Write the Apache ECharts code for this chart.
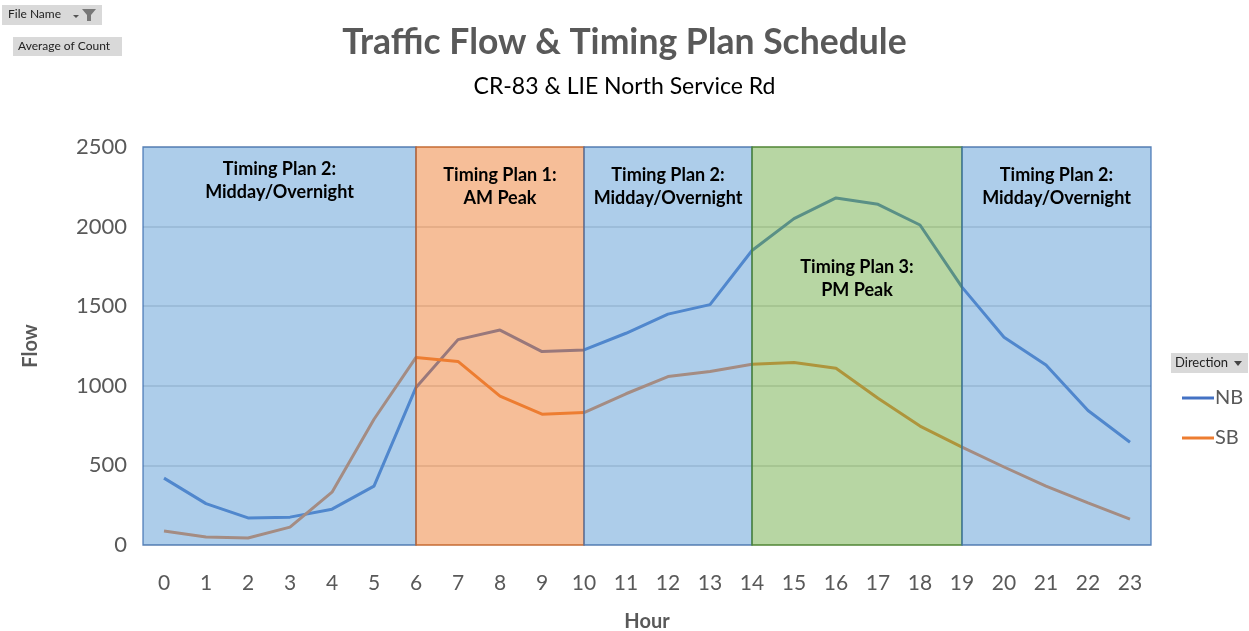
<!DOCTYPE html>
<html>
<head>
<meta charset="utf-8">
<script src="https://cdn.jsdelivr.net/npm/echarts@6/dist/echarts.min.js"></script>
<style>
html,body{margin:0;padding:0;background:#fff;}
#c{width:1249px;height:631px;}
</style>
</head>
<body>
<div id="c"></div>
<script>
var hours = ['0','1','2','3','4','5','6','7','8','9','10','11','12','13','14','15','16','17','18','19','20','21','22','23'];
var nbFlow = [420,260,170,175,225,370,990,1290,1350,1215,1225,1330,1450,1510,1850,2050,2180,2140,2010,1620,1305,1130,845,645];
var sbFlow = [88,50,44,112,332,790,1178,1153,935,822,832,950,1058,1090,1135,1147,1110,922,747,615,490,370,264,162];
var yTicks = [0,500,1000,1500,2000,2500];
var planStart = [-0.5, 6, 10, 14, 19];
var planEnd = [6, 10, 14, 19, 23.5];
var planNames = ['Timing Plan 2:\nMidday/Overnight','Timing Plan 1:\nAM Peak','Timing Plan 2:\nMidday/Overnight','Timing Plan 3:\nPM Peak','Timing Plan 2:\nMidday/Overnight'];
var planKind = ['mid','am','mid','pm','mid'];

var FONT = 'Lato';
var kindStyle = {
  mid: {color:'rgba(91,155,213,0.5)', borderColor:'rgba(60,110,175,0.75)'},
  am:  {color:'rgba(237,125,49,0.5)', borderColor:'rgba(200,95,30,0.8)'},
  pm:  {color:'rgba(112,173,71,0.5)', borderColor:'rgba(70,130,40,0.85)'}
};
var labelDist = [11, 17, 17, 109, 17];

var areaData = planStart.map(function(s,i){
  var k = kindStyle[planKind[i]];
  return [{
    xAxis: s,
    itemStyle: {color:k.color, borderColor:k.borderColor, borderWidth:1.5},
    label: {show:true, position:'insideTop', distance: labelDist[i], formatter: planNames[i],
            color:'#000', fontFamily:FONT, fontWeight:'bold', fontSize:18, lineHeight:23, align:'center'}
  },{xAxis: planEnd[i]}];
});

var chart = echarts.init(document.getElementById('c'));
chart.setOption({
  animation:false,
  backgroundColor:'#fff',
  title:[{
    text:'Traffic Flow & Timing Plan Schedule',
    left:'center', top:20,
    textStyle:{fontFamily:FONT, fontWeight:'bold', fontSize:35.5, color:'#595959'},
    subtext:'CR-83 & LIE North Service Rd',
    subtextStyle:{fontFamily:FONT, fontSize:23, color:'#000'},
    itemGap:14
  }],
  legend:{
    orient:'vertical', left:1177, top:383, itemGap:20,
    icon:'rect', itemWidth:32, itemHeight:3,
    textStyle:{fontFamily:FONT, fontSize:20, color:'#595959', padding:[0,0,0,-4]},
    data:['NB','SB']
  },
  grid:{left:143, right:98, top:147, bottom:86, outerBoundsMode:'none', containLabel:false},
  xAxis:[{
    type:'category', data:hours, boundaryGap:true,
    axisLine:{show:false}, axisTick:{show:false},
    axisLabel:{fontFamily:FONT, fontSize:21, color:'#595959', margin:28, interval:0},
    name:'Hour', nameLocation:'middle', nameGap:67,
    nameTextStyle:{fontFamily:FONT, fontWeight:'bold', fontSize:20, color:'#595959'}
  },{
    type:'value', min:-0.5, max:23.5, show:false
  }],
  yAxis:{
    type:'value', min:yTicks[0], max:yTicks[yTicks.length-1], interval:500,
    axisLine:{show:false}, axisTick:{show:false},
    axisLabel:{fontFamily:FONT, fontSize:22, color:'#595959', margin:16, formatter:function(v){return String(v);}},
    splitLine:{lineStyle:{color:'#d0d0d0', width:1.5}},
    name:'Flow', nameLocation:'middle', nameGap:102, nameRotate:90,
    nameTextStyle:{fontFamily:FONT, fontWeight:'bold', fontSize:20, color:'#595959'}
  },
  series:[{
    name:'NB', type:'line', data:nbFlow, symbol:'none', z:2,
    lineStyle:{color:'#4472C4', width:3}, itemStyle:{color:'#4472C4'}
  },{
    name:'SB', type:'line', data:sbFlow, symbol:'none', z:2,
    lineStyle:{color:'#ED7D31', width:3}, itemStyle:{color:'#ED7D31'}
  },{
    name:'plans', type:'line', xAxisIndex:1, data:[], z:5, silent:true,
    markArea:{silent:true, z:5, data:areaData}
  }],
  graphic:[
    {type:'rect', left:2, top:5, shape:{width:100, height:20}, style:{fill:'#d9d9d9'}},
    {type:'text', left:8, top:8, style:{text:'File Name', font:'12px '+FONT, fill:'#222'}},
    {type:'polygon', shape:{points:[[73,15],[79,15],[76,18]]}, style:{fill:'#555'}},
    {type:'polygon', shape:{points:[[82,9],[96,9],[91,15],[91,21],[87,21],[87,15]]}, style:{fill:'#777'}},
    {type:'rect', left:13, top:37, shape:{width:109, height:19}, style:{fill:'#d9d9d9'}},
    {type:'text', left:18, top:40, style:{text:'Average of Count', font:'12px '+FONT, fill:'#222'}},
    {type:'rect', left:1171, top:353, shape:{width:77, height:20}, style:{fill:'#d9d9d9'}},
    {type:'text', left:1175, top:356, style:{text:'Direction', font:'13px '+FONT, fill:'#222'}},
    {type:'polygon', shape:{points:[[1234,361],[1242,361],[1238,366]]}, style:{fill:'#444'}}
  ]
});
</script>
</body>
</html>
